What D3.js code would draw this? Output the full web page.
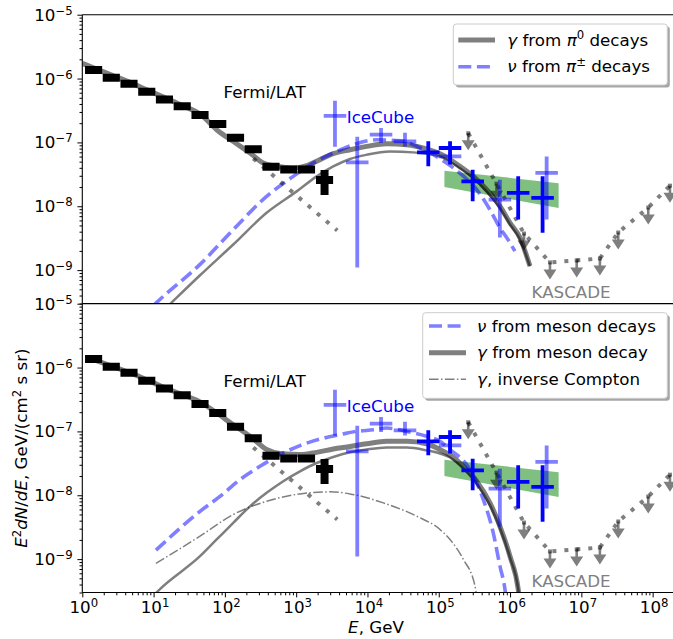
<!DOCTYPE html>
<html><head><meta charset="utf-8">
<script src="https://cdn.jsdelivr.net/npm/d3@7"></script>
<style>
body{margin:0;background:#fff}
svg{display:block}
text{font-family:"DejaVu Sans",sans-serif;white-space:pre}
</style>
</head><body>
<svg id="c" width="673" height="639"></svg>
<script>
// ---------------- DATA ----------------
const xTickExps = [0,1,2,3,4,5,6,7,8];
const yTickExps = [-5,-6,-7,-8,-9];

// Fermi/LAT diffuse points (bin centre E [GeV], flux, low/high)
const fermiE  = [1.44,2.55,4.52,8.02,14.2,25.2,44.8,79.4,141,250,444,787,1396,2500];
const fermiF  = [1.36e-6,1.03e-6,8.3e-7,6.22e-7,4.7e-7,3.69e-7,2.69e-7,1.94e-7,1.18e-7,7.82e-8,4.16e-8,3.77e-8,3.77e-8,2.58e-8];
const fermiLo = [1.33e-6,1.01e-6,8.1e-7,6.1e-7,4.6e-7,3.62e-7,2.64e-7,1.9e-7,1.16e-7,7.7e-8,4.1e-8,3.7e-8,3.7e-8,1.5e-8];
const fermiHi = [1.39e-6,1.05e-6,8.5e-7,6.35e-7,4.8e-7,3.76e-7,2.74e-7,1.98e-7,1.2e-7,7.95e-8,4.22e-8,3.84e-8,3.84e-8,3.7e-8];

// IceCube (light) points
const icE  = [3.5e3,7.19e3,1.55e4,3.36e4,1.44e5,7.2e5,3.26e6];
const icF  = [2.6e-7,4.87e-8,1.32e-7,1.04e-7,6.04e-8,1.27e-8,3.33e-8];
const icLo = [8.57e-8,1.1e-9,9.8e-8,8.66e-8,5.2e-8,3.24e-9,6.2e-9];
const icHi = [4.49e-7,1.23e-7,1.68e-7,1.42e-7,7.0e-8,2.61e-8,6.04e-8];

// IceCube (dark) points
const hesE  = [7.13e4,1.44e5,2.99e5,1.30e6,2.86e6];
const hesF  = [6.98e-8,8.17e-8,2.46e-8,1.62e-8,1.35e-8];
const hesLo = [4.22e-8,4.49e-8,1.2e-8,6.2e-9,3.84e-9];
const hesHi = [1.04e-7,1.04e-7,3.74e-8,2.94e-8,2.94e-8];

// IceCube power-law band
const bandE  = [1.2e5,4.8e6];
const bandHi = [3.6e-8,2.3e-8];
const bandLo = [2.0e-8,9.4e-9];

// KASCADE upper limits
const kasE = [2.59e5,6.45e5,1.57e6,3.63e6,8.6e6,1.82e7,3.29e7,8.68e7,1.75e8];
const kasF = [1.39e-7,2.26e-8,3.74e-9,1.32e-9,1.42e-9,1.52e-9,3.88e-9,9.55e-9,2.1e-8];

// Fermi extrapolation (dotted)
const extE = [250,3770];
const extF = [5.6e-8,4.17e-9];

// Top panel model curves [E, E^2dN/dE]
const gammaTopTotal = [[1,1.73e-6],[1.41,1.48e-6],[2.53,1.14e-6],[4.52,8.87e-7],[8.07,6.65e-7],[14.5,4.99e-7],[25.8,3.74e-7],[46.2,2.71e-7],[76.7,1.58e-7],[130,1.04e-7],[225,6.83e-8],[346,4.76e-8],[533,4.22e-8],[911,3.98e-8],[1403,4.33e-8],[2158,5.37e-8],[3311,6.65e-8],[5689,7.69e-8],[9750,8.66e-8],[18580,9.55e-8],[35480,9.2e-8],[67600,7.88e-8],[1.04e5,6.65e-8],[1.98e5,4.22e-8],[3.05e5,2.94e-8],[4.70e5,1.82e-8],[7.21e5,1.0e-8],[9.98e5,5.5e-9],[1.38e6,3.2e-9],[1.62e6,1.98e-9],[1.90e6,1.16e-9]];
const gammaTopPi0 = [[10,1.65e-10],[17.9,3.1e-10],[44.8,8.3e-10],[131,2.52e-9],[385,7.9e-9],[1016,1.71e-8],[1941,2.94e-8],[3311,4.2e-8],[5689,5.5e-8],[9750,6.4e-8],[20700,7.2e-8],[43900,6.98e-8],[1.04e5,6.0e-8],[1.98e5,3.95e-8],[3.05e5,2.76e-8],[4.70e5,1.70e-8],[7.21e5,9.4e-9],[9.98e5,5.2e-9],[1.38e6,3.0e-9],[1.90e6,1.14e-9]];
const nuTop = [[10,2.8e-10],[11,3.1e-10],[44.8,1.23e-9],[131,4.3e-9],[385,1.43e-8],[910,2.94e-8],[1738,4.77e-8],[3311,6.8e-8],[6320,9.2e-8],[13500,1.10e-7],[28600,1.06e-7],[54500,8.26e-8],[1.04e5,5.56e-8],[1.98e5,3.3e-8],[3.4e5,1.82e-8],[5.2e5,8.9e-9],[7.2e5,4.6e-9],[8.95e5,3.24e-9],[1.17e6,1.98e-9]];

// Bottom panel model curves
const nuBot = [[10.8,1.38e-9],[44.8,5.6e-9],[85.3,9.6e-9],[163,1.76e-8],[311,2.84e-8],[593,4.33e-8],[1130,6.0e-8],[2160,7.6e-8],[4110,8.9e-8],[7060,1.0e-7],[12100,1.06e-7],[18600,1.13e-7],[35500,1.0e-7],[67600,8.4e-8],[1.04e5,7.0e-8],[1.44e5,5.2e-8],[2.74e5,2.52e-8],[4.21e5,8.6e-9],[5.81e5,2.58e-9],[7.21e5,7.8e-10],[8.47e5,3.4e-10],[9.0e5,2.0e-10]];
const gammaBotTotal = [[1.41,1.34e-6],[2.53,1.06e-6],[4.52,8.4e-7],[8.08,6.4e-7],[14.5,4.8e-7],[25.8,3.74e-7],[44.8,2.9e-7],[76.7,1.94e-7],[131,1.27e-7],[225,8.4e-8],[385,5.2e-8],[593,4.5e-8],[1130,4.33e-8],[1941,4.7e-8],[3311,5.3e-8],[5689,5.8e-8],[9750,6.4e-8],[18600,7.0e-8],[35500,7.0e-8],[67600,6.4e-8],[1.04e5,5.2e-8],[1.44e5,4.25e-8],[2.21e5,2.84e-8],[3.40e5,1.66e-8],[5.22e5,7.6e-9],[7.21e5,3.27e-9],[9.98e5,1.11e-9],[1.30e6,3.4e-10],[1.38e6,2.0e-10]];
const gammaBotHad = [[10,2.7e-10],[12.3,3.4e-10],[44.8,1.11e-9],[76.7,2.03e-9],[131,3.7e-9],[225,6.7e-9],[385,1.09e-8],[659,1.66e-8],[1130,2.37e-8],[1941,3.2e-8],[3311,3.98e-8],[5689,4.7e-8],[9750,5.2e-8],[18600,5.6e-8],[35500,5.6e-8],[67600,5.05e-8],[1.04e5,4.5e-8],[1.44e5,3.9e-8],[2.21e5,2.61e-8],[3.40e5,1.52e-8],[5.22e5,7.0e-9],[7.21e5,3.07e-9],[9.98e5,1.06e-9],[1.30e6,3.4e-10],[1.38e6,2.0e-10]];
const icBot = [[10.8,8.6e-10],[44.8,2.29e-9],[131,4.99e-9],[385,8.05e-9],[1130,1.05e-8],[2980,1.13e-8],[5689,1.05e-8],[16700,7.6e-9],[49000,4.7e-9],[1.04e5,2.91e-9],[1.44e5,2.03e-9],[2.21e5,9.9e-10],[3.22e5,3.8e-10],[3.5e5,2.0e-10]];

// Labels placed in data coordinates
const labels = [
  {t:"Fermi/LAT", E:96,   F:4.94e-7, c:"#000"},
  {t:"IceCube",   E:5120, F:2.0e-7,  c:"#0000ff"},
  {t:"KASCADE",   E:2.0e6,F:3.6e-10, c:"#808080"}
];

// ---------------- LAYOUT ----------------
const L = 82.3, R = 673;
const FS = 16.7;
const x  = d3.scaleLog().domain([1,1.93e8]).range([L,R]);
const yT = d3.scaleLog().domain([3e-10,1e-5]).range([303.5,14.7]);
const yB = d3.scaleLog().domain([3e-10,1e-5]).range([592.5,303.7]);

const svg = d3.select('#c');
const defs = svg.append('defs');

function rich(sel, parts){
  let raised = false;
  parts.forEach(p=>{
    const t = sel.append('tspan').text(p.t);
    if(p.it) t.attr('font-style','italic');
    if(p.sup){
      t.attr('font-size', FS*0.7);
      if(!raised){ t.attr('dy', -FS*0.36); raised = true; }
    } else if(raised){ t.attr('dy', FS*0.36); raised = false; }
  });
}

const thick = {stroke:'#000','stroke-opacity':0.5,'stroke-width':5};
const thin  = {stroke:'#000','stroke-opacity':0.5,'stroke-width':2.5};
const dashB = {stroke:'#0000ff','stroke-opacity':0.5,'stroke-width':3.6,'stroke-dasharray':'13,5.6'};
const dashDot = {stroke:'#000','stroke-opacity':0.5,'stroke-width':1.5,'stroke-dasharray':'9.6,2.4,1.5,2.4'};
const dotted = {stroke:'#000','stroke-opacity':0.5,'stroke-width':4,'stroke-dasharray':'4,8'};

function applyStyle(sel, st){ Object.entries(st).forEach(([k,v])=>sel.attr(k,v)); return sel; }

function drawPanel(y, id, curves, legend, isBottom){
  const [yb, yt] = y.range();
  defs.append('clipPath').attr('id',id).append('rect')
    .attr('x',L).attr('y',yt).attr('width',R-L+2).attr('height',yb-yt);
  const g = svg.append('g');
  const gc = g.append('g').attr('clip-path',`url(#${id})`);

  // band
  const bandPts = bandE.map((e,i)=>[x(e),y(bandHi[i])]).concat(bandE.slice().reverse().map((e,i)=>[x(e),y(bandLo[bandE.length-1-i])]));
  gc.append('path').attr('d','M'+bandPts.map(p=>p.join(',')).join('L')+'Z')
    .attr('fill','green').attr('fill-opacity',0.5);

  // model curves
  const lg = d3.line().x(d=>x(d[0])).y(d=>y(d[1])).curve(d3.curveMonotoneX);
  curves.forEach(c=>{
    applyStyle(gc.append('path').datum(c.data).attr('d',lg).attr('fill','none'), c.style);
  });

  // Fermi extrapolation
  const lgl = d3.line().x(d=>x(d[0])).y(d=>y(d[1]));
  applyStyle(gc.append('path').datum(extE.map((e,i)=>[e,extF[i]])).attr('d',lgl).attr('fill','none'), dotted);

  // KASCADE dotted + arrows
  applyStyle(gc.append('path').datum(kasE.map((e,i)=>[e,kasF[i]])).attr('d',lgl).attr('fill','none'), dotted);
  kasE.forEach((e,i)=>{
    const px=x(e), py=y(kasF[i]);
    gc.append('path')
      .attr('d',`M${px-1.3},${py}L${px+1.3},${py}L${px+1.3},${py+7}L${px+6.5},${py+7}L${px},${py+17}L${px-6.5},${py+7}L${px-1.3},${py+7}Z`)
      .attr('fill','#000').attr('fill-opacity',0.5);
    gc.append('rect').attr('x',px-2).attr('y',py-2).attr('width',4).attr('height',4)
      .attr('fill','#000').attr('fill-opacity',0.5);
  });

  // Fermi points
  const hw = 10**0.12;
  fermiE.forEach((e,i)=>{
    gc.append('line').attr('x1',x(e/hw)).attr('x2',x(e*hw)).attr('y1',y(fermiF[i])).attr('y2',y(fermiF[i]))
      .attr('stroke','#000').attr('stroke-width',8);
    gc.append('line').attr('x1',x(e)).attr('x2',x(e)).attr('y1',y(fermiLo[i])).attr('y2',y(fermiHi[i]))
      .attr('stroke','#000').attr('stroke-width',8);
  });

  // IceCube points
  const bw = 10**0.158;
  function cross(E,F,Lo,Hi,col,op){
    E.forEach((e,i)=>{
      gc.append('line').attr('x1',x(e/bw)).attr('x2',x(e*bw)).attr('y1',y(F[i])).attr('y2',y(F[i]))
        .attr('stroke',col).attr('stroke-opacity',op).attr('stroke-width',3.8);
      gc.append('line').attr('x1',x(e)).attr('x2',x(e)).attr('y1',y(Lo[i])).attr('y2',y(Hi[i]))
        .attr('stroke',col).attr('stroke-opacity',op).attr('stroke-width',3.8);
    });
  }
  cross(hesE,hesF,hesLo,hesHi,'#0000ff',1);
  cross(icE,icF,icLo,icHi,'#0000ff',0.5);

  // labels
  labels.forEach(l=>{
    g.append('text').attr('x',x(l.E)).attr('y',y(l.F)).attr('font-size',FS).attr('fill',l.c).text(l.t);
  });

  // axes: ticks
  const majors = yTickExps.map(e=>10**e);
  const minors = [];
  for(let e=-10;e<=-6;e++) for(let k=2;k<=9;k++){const v=k*10**e; if(v>=3e-10 && v<=1e-5) minors.push(v);}
  const ax1 = g.append('g').attr('transform',`translate(${L},0)`)
    .call(d3.axisLeft(y).tickValues(majors).tickSize(4.9).tickSizeOuter(0).tickFormat(''));
  const ax2 = g.append('g').attr('transform',`translate(${L},0)`)
    .call(d3.axisLeft(y).tickValues(minors).tickSize(2.8).tickSizeOuter(0).tickFormat(''));
  [ax1,ax2].forEach(a=>{a.select('.domain').remove(); a.selectAll('line').attr('stroke-width',1);});
  yTickExps.forEach(e=>{
    const t = g.append('text').attr('x',L-9.6).attr('y',y(10**e)+6).attr('text-anchor','end').attr('font-size',FS);
    rich(t,[{t:'10'},{t:'\u2212'+Math.abs(e),sup:true}]);
  });

  // spines
  g.append('line').attr('x1',L).attr('x2',L).attr('y1',yt).attr('y2',yb).attr('stroke','#000').attr('stroke-width',1.1);
  g.append('line').attr('x1',L).attr('x2',R).attr('y1',yt).attr('y2',yt).attr('stroke','#000').attr('stroke-width',1.1);
  g.append('line').attr('x1',L).attr('x2',R).attr('y1',yb).attr('y2',yb).attr('stroke','#000').attr('stroke-width',1.1);

  if(isBottom){
    const xmaj = xTickExps.map(e=>10**e);
    const xmin = [];
    for(let e=0;e<=8;e++) for(let k=2;k<=9;k++){const v=k*10**e; if(v<=1.93e8) xmin.push(v);}
    const a1 = g.append('g').attr('transform',`translate(0,${yb})`)
      .call(d3.axisBottom(x).tickValues(xmaj).tickSize(4.9).tickSizeOuter(0).tickFormat(''));
    const a2 = g.append('g').attr('transform',`translate(0,${yb})`)
      .call(d3.axisBottom(x).tickValues(xmin).tickSize(2.8).tickSizeOuter(0).tickFormat(''));
    [a1,a2].forEach(a=>{a.select('.domain').remove(); a.selectAll('line').attr('stroke-width',1);});
    xTickExps.forEach(e=>{
      const t = g.append('text').attr('x',x(10**e)+1.5).attr('y',613.3).attr('text-anchor','middle').attr('font-size',FS);
      rich(t,[{t:'10'},{t:String(e),sup:true}]);
    });
    const xl = g.append('text').attr('x',376).attr('y',633).attr('text-anchor','middle').attr('font-size',FS);
    rich(xl,[{t:'E',it:true},{t:', GeV'}]);
    const yl = g.append('text').attr('transform',`translate(26.5,${(yt+yb)/2}) rotate(-90)`)
      .attr('text-anchor','middle').attr('font-size',FS);
    rich(yl,[{t:'E',it:true},{t:'2',sup:true},{t:'dN',it:true},{t:'/'},{t:'dE',it:true},{t:', GeV/(cm'},{t:'2',sup:true},{t:' s sr)'}]);
  }

  // legend
  const lgG = g.append('g');
  const b = legend.box;
  lgG.append('rect').attr('x',b[0]+2.5).attr('y',b[1]+2.5).attr('width',b[2]).attr('height',b[3]).attr('rx',3)
    .attr('fill','#000').attr('fill-opacity',0.35);
  lgG.append('rect').attr('x',b[0]).attr('y',b[1]).attr('width',b[2]).attr('height',b[3]).attr('rx',3)
    .attr('fill','#fff').attr('stroke','#cccccc').attr('stroke-width',1);
  legend.items.forEach(it=>{
    applyStyle(lgG.append('line').attr('x1',legend.hx[0]).attr('x2',legend.hx[1]).attr('y1',it.y).attr('y2',it.y), it.style);
    const t = lgG.append('text').attr('x',legend.tx).attr('y',it.y+5.5).attr('font-size',FS);
    rich(t, it.parts);
  });
}

drawPanel(yT,'clipT',[
  {data:gammaTopTotal, style:thick},
  {data:gammaTopPi0, style:thin},
  {data:nuTop, style:dashB}
],{
  box:[453.3,24,214,61], hx:[458.3,495], tx:507.3,
  items:[
    {y:40, style:thick, parts:[{t:'\u03b3',it:true},{t:' from '},{t:'\u03c0',it:true},{t:'0',sup:true},{t:' decays'}]},
    {y:66.7, style:dashB, parts:[{t:'\u03bd',it:true},{t:' from '},{t:'\u03c0',it:true},{t:'\u00b1',sup:true},{t:' decays'}]}
  ]
}, false);

drawPanel(yB,'clipB',[
  {data:gammaBotTotal, style:thick},
  {data:gammaBotHad, style:thin},
  {data:icBot, style:dashDot},
  {data:nuBot, style:dashB}
],{
  box:[422.7,312.7,244.6,85.6], hx:[429,466], tx:477,
  items:[
    {y:326, style:dashB, parts:[{t:'\u03bd',it:true},{t:' from meson decays'}]},
    {y:352.7, style:thick, parts:[{t:'\u03b3',it:true},{t:' from meson decay'}]},
    {y:379.3, style:dashDot, parts:[{t:'\u03b3',it:true},{t:', inverse Compton'}]}
  ]
}, true);
</script>
</body></html>
